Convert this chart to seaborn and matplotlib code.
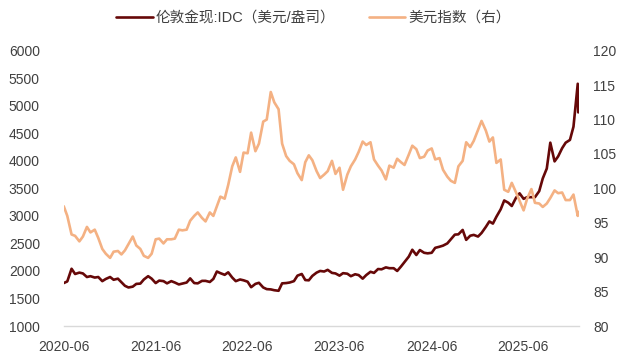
import matplotlib
matplotlib.use('Agg')
import matplotlib.pyplot as plt
import pandas as pd
import seaborn as sns

sns.set_style('white')
plt.rcParams['font.family'] = ['Liberation Sans', 'Noto Sans CJK SC', 'DejaVu Sans']

# semi-monthly readings, 2020-07-01 ... 2026-02-01, plus the last day
dates = list(pd.date_range('2020-07-01', '2026-02-01', freq='SMS')) + [pd.Timestamp('2026-02-03')]

# London spot gold, USD/oz (left axis)
gold_2020 = [1780, 1810, 2040, 1945, 1970, 1955, 1890, 1905, 1880, 1890, 1815, 1855]
gold_2021 = [1890, 1840, 1860, 1795, 1730, 1700, 1715, 1765, 1770, 1845, 1905, 1860,
             1780, 1825, 1815, 1775, 1815, 1790, 1755, 1770, 1790, 1865, 1780, 1775]
gold_2022 = [1820, 1820, 1800, 1855, 1990, 1960, 1930, 1975, 1880, 1815, 1845, 1830,
             1805, 1705, 1765, 1785, 1700, 1670, 1665, 1650, 1640, 1775, 1780, 1790]
gold_2023 = [1815, 1915, 1945, 1835, 1830, 1910, 1970, 2000, 1990, 2020, 1965, 1955,
             1915, 1960, 1950, 1905, 1940, 1925, 1860, 1925, 1985, 1965, 2035, 2030]
gold_2024 = [2065, 2050, 2050, 2000, 2080, 2160, 2260, 2385, 2290, 2380, 2330, 2320,
             2330, 2420, 2440, 2460, 2500, 2575, 2660, 2665, 2745, 2565, 2640, 2655]
gold_2025 = [2625, 2690, 2800, 2900, 2860, 2985, 3120, 3280, 3240, 3180, 3330, 3410,
             3310, 3340, 3340, 3340, 3450, 3680, 3860, 4330, 3990, 4080, 4230, 4330]
gold_2026 = [4380, 4620, 5400, 4880]

# US dollar index (right axis)
dxy_2020 = [97.4, 96.0, 93.3, 93.1, 92.3, 93.0, 94.4, 93.6, 94.0, 92.8, 91.2, 90.5]
dxy_2021 = [89.9, 90.8, 90.9, 90.4, 91.0, 91.9, 93.0, 91.7, 91.2, 90.2, 89.9, 90.5,
            92.6, 92.7, 92.0, 92.6, 92.6, 92.7, 94.0, 93.9, 94.0, 95.3, 96.0, 96.5]
dxy_2022 = [95.7, 95.2, 96.5, 96.0, 97.4, 98.8, 98.5, 100.5, 103.2, 104.5, 102.4, 105.2,
            105.1, 108.1, 105.4, 106.5, 109.7, 110.0, 114.0, 112.5, 111.5, 106.5, 104.7, 104.0]
dxy_2023 = [103.5, 102.2, 101.2, 103.8, 104.8, 104.1, 102.5, 101.5, 102.0, 102.5, 104.0, 102.1,
            103.0, 99.8, 102.0, 103.2, 104.2, 105.3, 106.8, 106.3, 106.7, 104.2, 103.3, 102.6]
dxy_2024 = [101.3, 103.3, 103.0, 104.3, 103.8, 103.4, 104.9, 106.2, 105.7, 104.4, 104.6, 105.5,
            105.8, 104.2, 104.4, 102.7, 101.7, 101.1, 100.8, 103.2, 104.0, 106.7, 106.0, 106.9]
dxy_2025 = [108.5, 109.8, 108.4, 106.8, 107.4, 103.7, 104.2, 99.8, 99.5, 100.8, 99.4, 98.2,
            96.8, 98.5, 99.9, 97.9, 97.8, 97.3, 97.8, 98.6, 99.7, 99.3, 99.4, 98.3]
dxy_2026 = [98.3, 99.1, 96.0, 96.6]

tick_labels = ['2020-06', '2021-06', '2022-06', '2023-06', '2024-06', '2025-06']
gold_name = '伦敦金现:IDC（美元/盎司）'
dxy_name = '美元指数（右）'

gold = gold_2020 + gold_2021 + gold_2022 + gold_2023 + gold_2024 + gold_2025 + gold_2026
dxy = dxy_2020 + dxy_2021 + dxy_2022 + dxy_2023 + dxy_2024 + dxy_2025 + dxy_2026
df = pd.DataFrame({'date': dates, 'gold': gold, 'dxy': dxy})

fig = plt.figure(figsize=(6.19, 3.6), dpi=100)
ax = fig.add_axes([0.1026, 0.0944, 0.8328, 0.7647])
ax2 = ax.twinx()

sns.lineplot(data=df, x='date', y='gold', ax=ax, color='#660808', linewidth=1.9, label=gold_name)
sns.lineplot(data=df, x='date', y='dxy', ax=ax2, color='#f4b183', linewidth=1.9, label=dxy_name)

ax.set_ylim(1000, 6000)
ax.set_yticks(range(1000, 6001, 500))
ax2.set_ylim(80, 120)
ax2.set_yticks(range(80, 121, 5))
ax.set_xlim(pd.Timestamp('2020-06-30'), pd.Timestamp('2026-02-06'))
ax.set_xticks(pd.to_datetime([s + '-30' for s in tick_labels]))
ax.set_xticklabels(tick_labels)

for a in (ax, ax2):
    a.set_xlabel('')
    a.set_ylabel('')
    a.grid(False)
    for s in ('top', 'left', 'right'):
        a.spines[s].set_visible(False)
ax2.spines['bottom'].set_visible(False)
ax.spines['bottom'].set_color('#d9d9d9')
ax.spines['bottom'].set_linewidth(1.0)

ax.tick_params(axis='x', direction='out', length=4, width=1, color='#d9d9d9',
               pad=6, labelsize=10, labelcolor='#404040')
ax.tick_params(axis='y', length=0, pad=17, labelsize=10, labelcolor='#404040')
ax2.tick_params(axis='y', length=0, pad=10, labelsize=10, labelcolor='#404040')

h1, l1 = ax.get_legend_handles_labels()
h2, l2 = ax2.get_legend_handles_labels()
ax.get_legend().remove()
ax2.get_legend().remove()
fig.legend(h1 + h2, l1 + l2, loc='center', bbox_to_anchor=(0.506, 1 - 18 / 360), ncol=2,
           frameon=False, fontsize=10.5, handlelength=2.5, handletextpad=0.2,
           columnspacing=2.3, labelcolor='#404040')

fig.savefig('out.png', dpi=100)
